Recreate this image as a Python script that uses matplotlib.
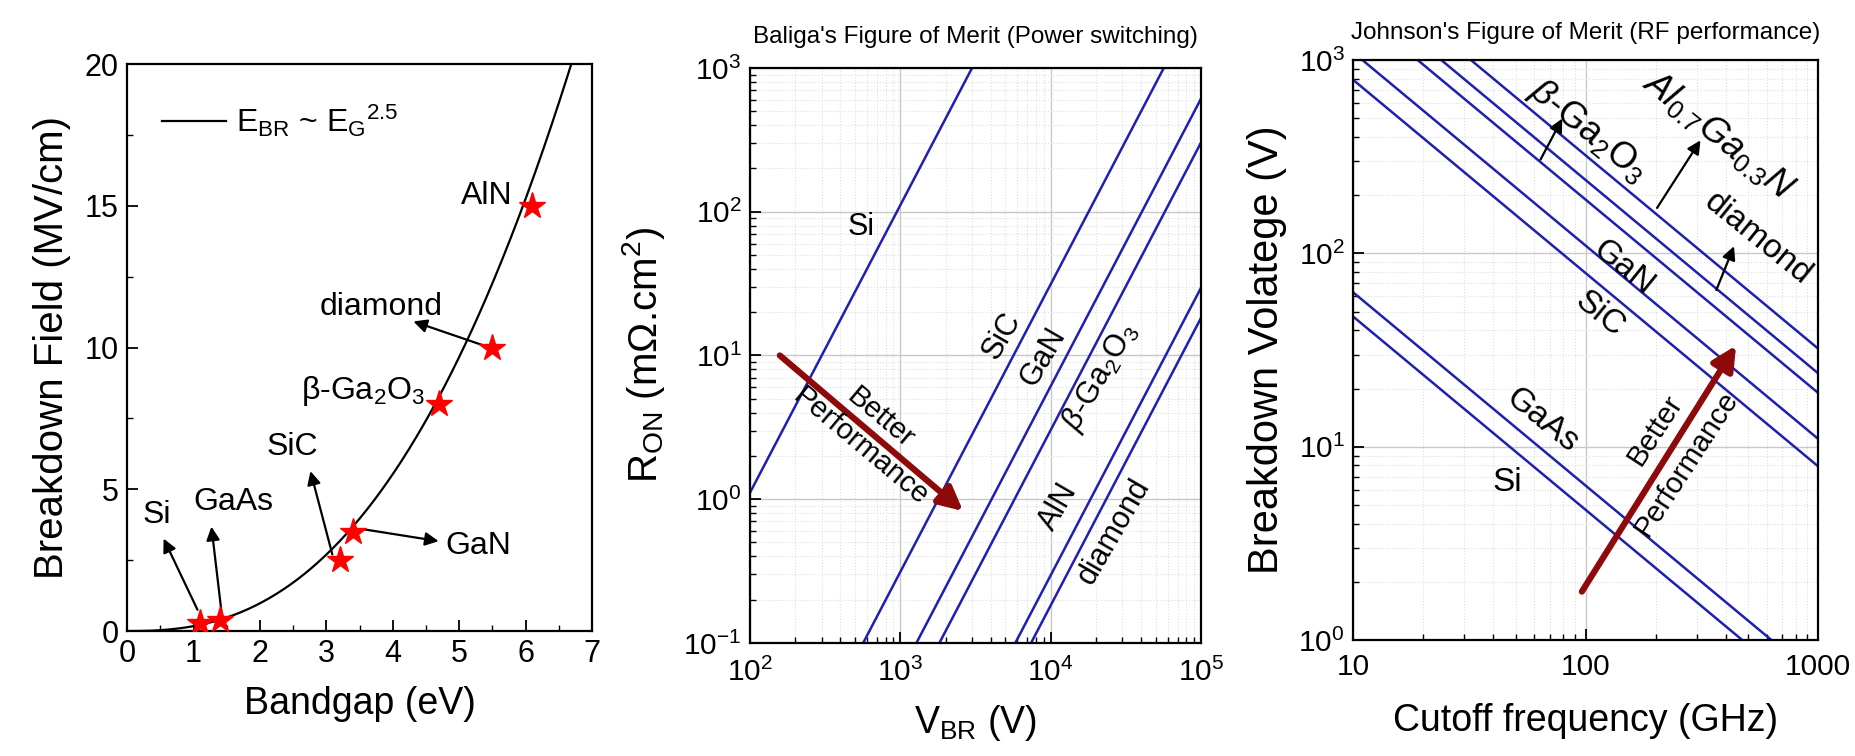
import numpy as np
import matplotlib
matplotlib.use('Agg')
import matplotlib.pyplot as plt
from matplotlib.lines import Line2D
from matplotlib.ticker import MultipleLocator, LogLocator, NullFormatter, FuncFormatter

plt.rcParams['font.family'] = ['Liberation Sans', 'DejaVu Sans']
plt.rcParams['mathtext.fontset'] = 'custom'
plt.rcParams['mathtext.rm'] = 'Liberation Sans'
plt.rcParams['mathtext.it'] = 'Liberation Sans:italic'
plt.rcParams['mathtext.bf'] = 'Liberation Sans:bold'
plt.rcParams['axes.linewidth'] = 1.6

# ---- panel 1: breakdown field vs bandgap
materials = ['Si', 'GaAs', 'SiC', 'GaN', 'β-Ga$_2$O$_3$', 'diamond', 'AlN']
bandgap = [1.1, 1.4, 3.2, 3.4, 4.7, 5.5, 6.1]        # eV
breakdown = [0.3, 0.4, 2.5, 3.5, 8.0, 10.0, 15.0]    # MV/cm
fit_coeff = 0.173                                     # E_BR = k * E_G^2.5
fit_exp = 2.5

# ---- panel 2: Baliga FOM, R_on = r1k * (V_BR / 1 kV)^2
baliga_names = ['Si', 'SiC', 'GaN', r'$\beta$-Ga$_2$O$_3$', 'AlN', 'diamond']
ron_at_1kV = [111, 0.312, 0.061, 0.0302, 0.00295, 0.00182]   # mOhm.cm2
vbr_range = [1e2, 1e5]

# ---- panel 3: Johnson FOM, V_BR * f_T = const
johnson_names = ['Si', 'GaAs', 'SiC', 'GaN', r'$\beta$-Ga$_2$O$_3$', 'diamond',
                 r'$Al_{0.7}Ga_{0.3}N$']
johnson_fom = [472, 630, 7920, 10990, 19000, 24000, 32200]   # V.GHz
freq_range = [10, 1000]

BLUE = '#1f1fb0'
DARKRED = '#8e0a0a'

fig = plt.figure(figsize=(18.55, 7.56), dpi=100)
ax1 = fig.add_axes([0.0685, 0.1653, 0.2507, 0.75])
ax2 = fig.add_axes([0.4043, 0.1495, 0.2431, 0.7606])
ax3 = fig.add_axes([0.7294, 0.1534, 0.2507, 0.767])

# ================= panel 1 =================
eg = np.linspace(0, 7, 400)
ax1.plot(eg, fit_coeff * eg ** fit_exp, color='black', lw=1.6)
ax1.plot(bandgap, breakdown, ls='none', marker='*', ms=20, color='#ff0000', zorder=5)

ax1.set_xlim(0, 7)
ax1.set_ylim(0, 20)
ax1.xaxis.set_major_locator(MultipleLocator(1))
ax1.xaxis.set_minor_locator(MultipleLocator(0.5))
ax1.yaxis.set_major_locator(MultipleLocator(5))
ax1.yaxis.set_minor_locator(MultipleLocator(2.5))
ax1.set_xlabel('Bandgap (eV)', fontsize=27, labelpad=12)
ax1.set_ylabel('Breakdown Field (MV/cm)', fontsize=29, labelpad=10)

handle = Line2D([], [], color='black', lw=1.6)
ax1.legend([handle], [r'E$_{\mathrm{BR}}$ ~ E$_{\mathrm{G}}$$^{2.5}$'], loc='center left',
           bbox_to_anchor=(0.0, 0.9), frameon=False, fontsize=23,
           handlelength=2.0, handletextpad=0.3, borderaxespad=0.7)

p1_labels = [('Si', 0.44, 4.11), ('GaAs', 1.60, 4.54), ('SiC', 2.49, 6.49),
             ('GaN', 5.29, 3.0), ('diamond', 3.83, 11.44),
             ('β-Ga$_2$O$_3$', 3.55, 8.46), ('AlN', 5.41, 15.36)]
for txt, x, y in p1_labels:
    ax1.text(x, y, txt, fontsize=23, ha='center', va='center')

p1_arrows = [((1.06, 0.75), (0.55, 3.26)), ((1.42, 0.70), (1.27, 3.68)),
             ((3.09, 2.70), (2.76, 5.64)), ((3.53, 3.60), (4.69, 3.17)),
             ((5.47, 9.99), (4.31, 10.92))]
for tail, head in p1_arrows:
    ax1.annotate('', xy=head, xytext=tail,
                 arrowprops=dict(arrowstyle='-|>', color='black', lw=1.6,
                                 mutation_scale=20, shrinkA=0, shrinkB=0))

# ================= panel 2 =================
vb = np.array(vbr_range)
for r1k in ron_at_1kV:
    ax2.plot(vb, r1k * (vb / 1e3) ** 2, color=BLUE, lw=1.8)
ax2.set_xscale('log')
ax2.set_yscale('log')
ax2.set_xlim(1e2, 1e5)
ax2.set_ylim(1e-1, 1e3)
ax2.set_title("Baliga's Figure of Merit (Power switching)", fontsize=17.5, pad=18)
ax2.set_xlabel(r'V$_{\mathrm{BR}}$ (V)', fontsize=27, labelpad=11)
ax2.set_ylabel(r'R$_{\mathrm{ON}}$ (mΩ.cm$^2$)', fontsize=29, labelpad=12)

p2_labels = [(548, 78, 0), (4710, 13.7, 60), (8890, 9.7, 60), (21400, 7.1, 60),
             (11300, 0.88, 60), (26500, 0.60, 60)]
for name, (x, y, rot) in zip(baliga_names, p2_labels):
    ax2.text(x, y, name, fontsize=22, ha='center', va='center', rotation=rot,
             rotation_mode='anchor')

ax2.annotate('', xy=(2618, 0.827), xytext=(158, 10),
             arrowprops=dict(arrowstyle='-|>', color=DARKRED, lw=4.5,
                             mutation_scale=36, shrinkA=0, shrinkB=0))
ax2.text(743, 3.68, 'Better', fontsize=21, rotation=-40, ha='center', va='center',
         rotation_mode='anchor')
ax2.text(548, 2.31, 'Performance', fontsize=21, rotation=-40, ha='center',
         va='center', rotation_mode='anchor')

# ================= panel 3 =================
fq = np.array(freq_range, dtype=float)
for fom in johnson_fom:
    ax3.plot(fq, fom / fq, color=BLUE, lw=1.8)
ax3.set_xscale('log')
ax3.set_yscale('log')
ax3.set_xlim(10, 1000)
ax3.set_ylim(1, 1e3)
ax3.xaxis.set_major_formatter(FuncFormatter(lambda v, p: f'{v:g}'))
ax3.set_title("Johnson's Figure of Merit (RF performance)", fontsize=17.5, pad=15)
ax3.set_xlabel('Cutoff frequency (GHz)', fontsize=27, labelpad=16)
ax3.set_ylabel('Breakdown Volatege (V)', fontsize=30, labelpad=8)

p3_labels = [(45.9, 6.5, 0, 24), (65.3, 13.7, -39, 24), (115, 48.6, -39, 24),
             (146, 84, -39, 24), (102.6, 433, -39, 26), (551, 119, -39, 24),
             (372, 408, -39, 26)]
for name, (x, y, rot, fs) in zip(johnson_names, p3_labels):
    ax3.text(x, y, name, fontsize=fs, ha='center', va='center', rotation=rot,
             rotation_mode='anchor')

p3_arrows = [((64, 306), (79.4, 499)), ((203, 172), (312, 385)),
             ((365, 64.7), (435, 109))]
for tail, head in p3_arrows:
    ax3.annotate('', xy=head, xytext=tail,
                 arrowprops=dict(arrowstyle='-|>', color='black', lw=1.6,
                                 mutation_scale=20, shrinkA=0, shrinkB=0))

ax3.annotate('', xy=(444, 33.4), xytext=(96.4, 1.78),
             arrowprops=dict(arrowstyle='-|>', color=DARKRED, lw=4.5,
                             mutation_scale=36, shrinkA=0, shrinkB=0))
ax3.text(199, 12.2, 'Better', fontsize=21, rotation=57, ha='center', va='center',
         rotation_mode='anchor')
ax3.text(272, 8.2, 'Performance', fontsize=21, rotation=57, ha='center',
         va='center', rotation_mode='anchor')

# ---- common axis styling
for ax, fs in ((ax1, 22), (ax2, 21.5), (ax3, 21.5)):
    ax.tick_params(which='both', direction='in', top=False, right=False,
                   labelsize=fs, pad=6)
    ax.tick_params(which='major', length=8, width=1.3)
    ax.tick_params(which='minor', length=4, width=1.0)
ax2.tick_params(axis='x', which='both', pad=11)
ax3.tick_params(axis='x', which='both', pad=9)

for ax in (ax2, ax3):
    ax.xaxis.set_minor_locator(LogLocator(base=10, subs=np.arange(2, 10)))
    ax.yaxis.set_minor_locator(LogLocator(base=10, subs=np.arange(2, 10)))
    ax.xaxis.set_minor_formatter(NullFormatter())
    ax.yaxis.set_minor_formatter(NullFormatter())
    ax.grid(which='major', color='#c8c8c8', lw=1.0)
    ax.grid(which='minor', color='#dedede', lw=0.8, ls=':')
    ax.set_axisbelow(True)

fig.savefig('out.png', dpi=100)
